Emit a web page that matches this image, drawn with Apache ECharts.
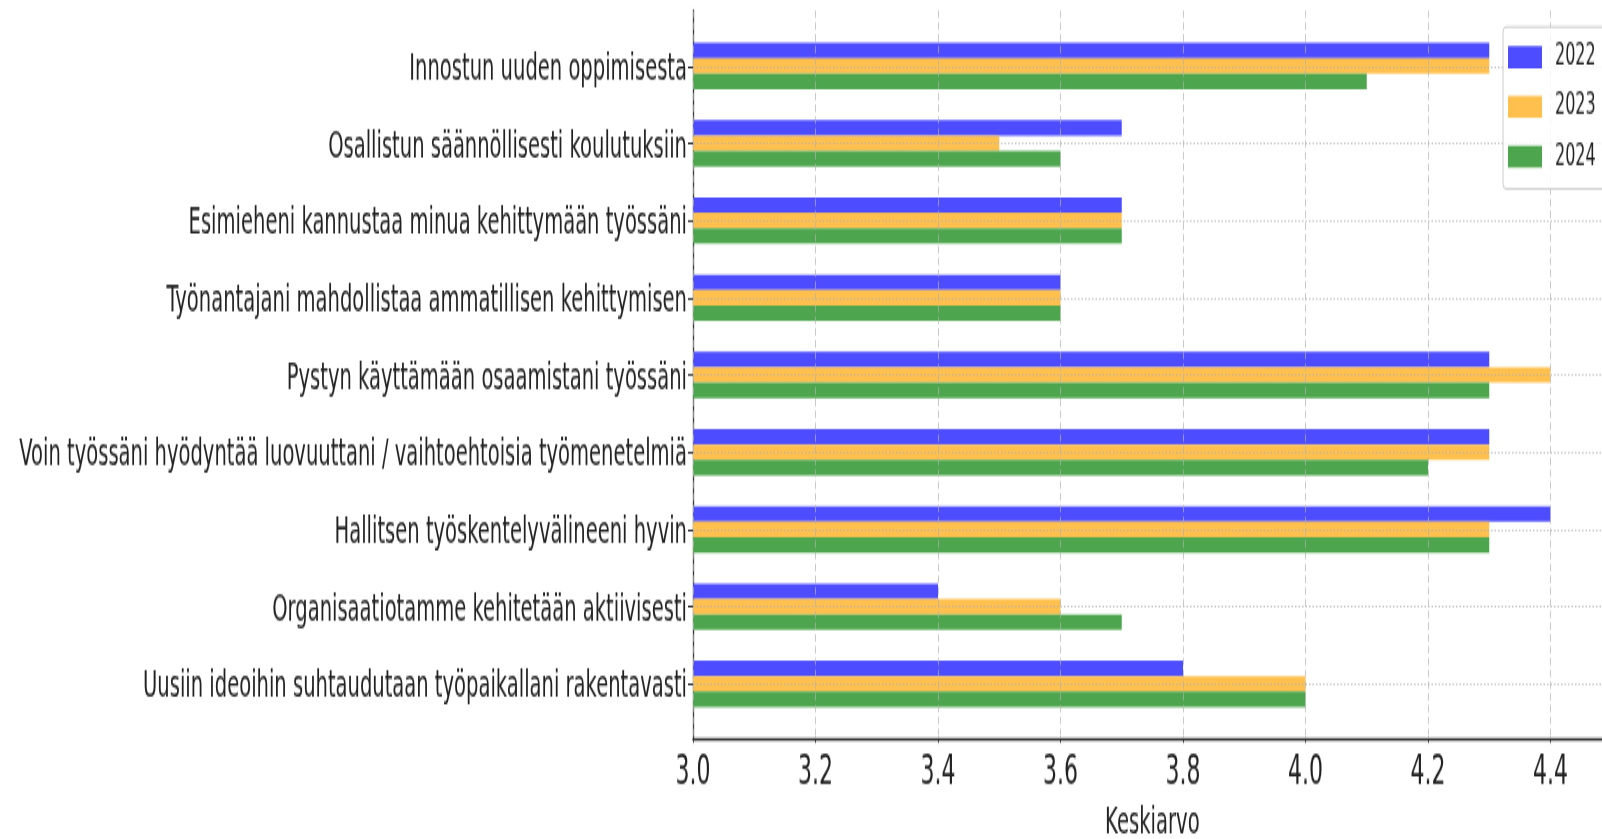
<!DOCTYPE html>
<html><head><meta charset="utf-8">
<script src="https://cdn.jsdelivr.net/npm/echarts@6/dist/echarts.min.js"></script>
<style>
html,body{margin:0;padding:0;overflow:hidden;background:#fff;width:1602px;height:839px}
#c{width:1602px;height:442px;transform:scaleY(1.8982);transform-origin:0 0;}
</style>
</head><body><div id="c"></div>
<script>
const categories = [
  'Innostun uuden oppimisesta',
  'Osallistun säännöllisesti koulutuksiin',
  'Esimieheni kannustaa minua kehittymään työssäni',
  'Työnantajani mahdollistaa ammatillisen kehittymisen',
  'Pystyn käyttämään osaamistani työssäni',
  'Voin työssäni hyödyntää luovuuttani / vaihtoehtoisia työmenetelmiä',
  'Hallitsen työskentelyvälineeni hyvin',
  'Organisaatiotamme kehitetään aktiivisesti',
  'Uusiin ideoihin suhtaudutaan työpaikallani rakentavasti'
];
const years = ['2022', '2023', '2024'];
const values2022 = [4.3, 3.7, 3.7, 3.6, 4.3, 4.3, 4.4, 3.4, 3.8];
const values2023 = [4.3, 3.5, 3.7, 3.6, 4.4, 4.3, 4.3, 3.6, 4.0];
const values2024 = [4.1, 3.6, 3.7, 3.6, 4.3, 4.2, 4.3, 3.7, 4.0];
const xMin = 3.0, xMax = 4.5, xStep = 0.2;
const axisName = 'Keskiarvo';

const FONT = 'DejaVu Sans';
const colors = ['#4D4DFF', '#FFC04D', '#4DA64D'];
const seriesValues = [values2022, values2023, values2024];
const gridLineColor = 'rgba(176,176,176,0.7)';

const chart = echarts.init(document.getElementById('c'));
chart.setOption({
  animation: false,
  textStyle: { fontFamily: FONT },
  grid: [
    { left: 693, width: 918.75, top: 14.42, bottom: 61.35, outerBoundsMode: 'none', containLabel: false },
    { left: 693, width: 918.75, top: 5.5, bottom: 53.2, outerBoundsMode: 'none', containLabel: false }
  ],
  legend: {
    orient: 'vertical', left: 1503, top: 14.2,
    itemWidth: 34, itemHeight: 11.6, itemGap: 10.2,
    padding: [7.9, 40, 9, 5],
    borderColor: '#cccccc', borderWidth: 1, borderRadius: 3,
    backgroundColor: 'rgba(255,255,255,0.85)',
    icon: 'rect', z: 10,
    textStyle: { fontFamily: FONT, fontSize: 16, lineHeight: 12, color: '#222', padding: [0, 0, 0, 8] },
    data: years
  },
  xAxis: [
    { gridIndex: 0, type: 'value', min: xMin, max: xMax, show: false },
    {
      gridIndex: 1, type: 'value', min: xMin, max: xMax, interval: xStep, z: 3,
      name: axisName, nameLocation: 'middle', nameGap: 35.3,
      nameTextStyle: { fontFamily: FONT, fontSize: 19.6, color: '#222' },
      axisLine: { show: true, onZero: false, lineStyle: { color: '#333', width: 1.3 } },
      axisTick: { show: true, length: 2.5, lineStyle: { color: '#333' } },
      axisLabel: { fontFamily: FONT, fontSize: 22, color: '#222', margin: 7.5, showMaxLabel: false,
        formatter: v => v.toFixed(1) },
      splitLine: { show: true, lineStyle: { type: [4, 2.2], color: gridLineColor, width: 1 } }
    }
  ],
  yAxis: [
    {
      gridIndex: 0, type: 'category', data: categories, inverse: true, z: 3,
      axisLine: { show: false },
      axisTick: { show: true, alignWithLabel: true, length: 5, lineStyle: { color: '#333', width: 1 } },
      axisLabel: { fontFamily: FONT, fontSize: 19.55, color: '#222', margin: 6, verticalAlign: 'top', lineHeight: 4 },
      splitLine: { show: true, alignWithLabel: true, lineStyle: { type: [1.5, 2], color: gridLineColor, width: 1 } }
    },
    {
      gridIndex: 1, type: 'value', min: 0, max: 1,
      axisLine: { show: true, onZero: false, lineStyle: { color: '#333', width: 1.3 } },
      axisTick: { show: false }, axisLabel: { show: false }, splitLine: { show: false }
    }
  ],
  series: years.map((y, i) => ({
    name: y, type: 'bar', xAxisIndex: 0, yAxisIndex: 0,
    data: seriesValues[i], barWidth: '20%', barGap: '0%',
    itemStyle: { color: colors[i] },
    emphasis: { disabled: true }
  }))
});
</script>
</body></html>
